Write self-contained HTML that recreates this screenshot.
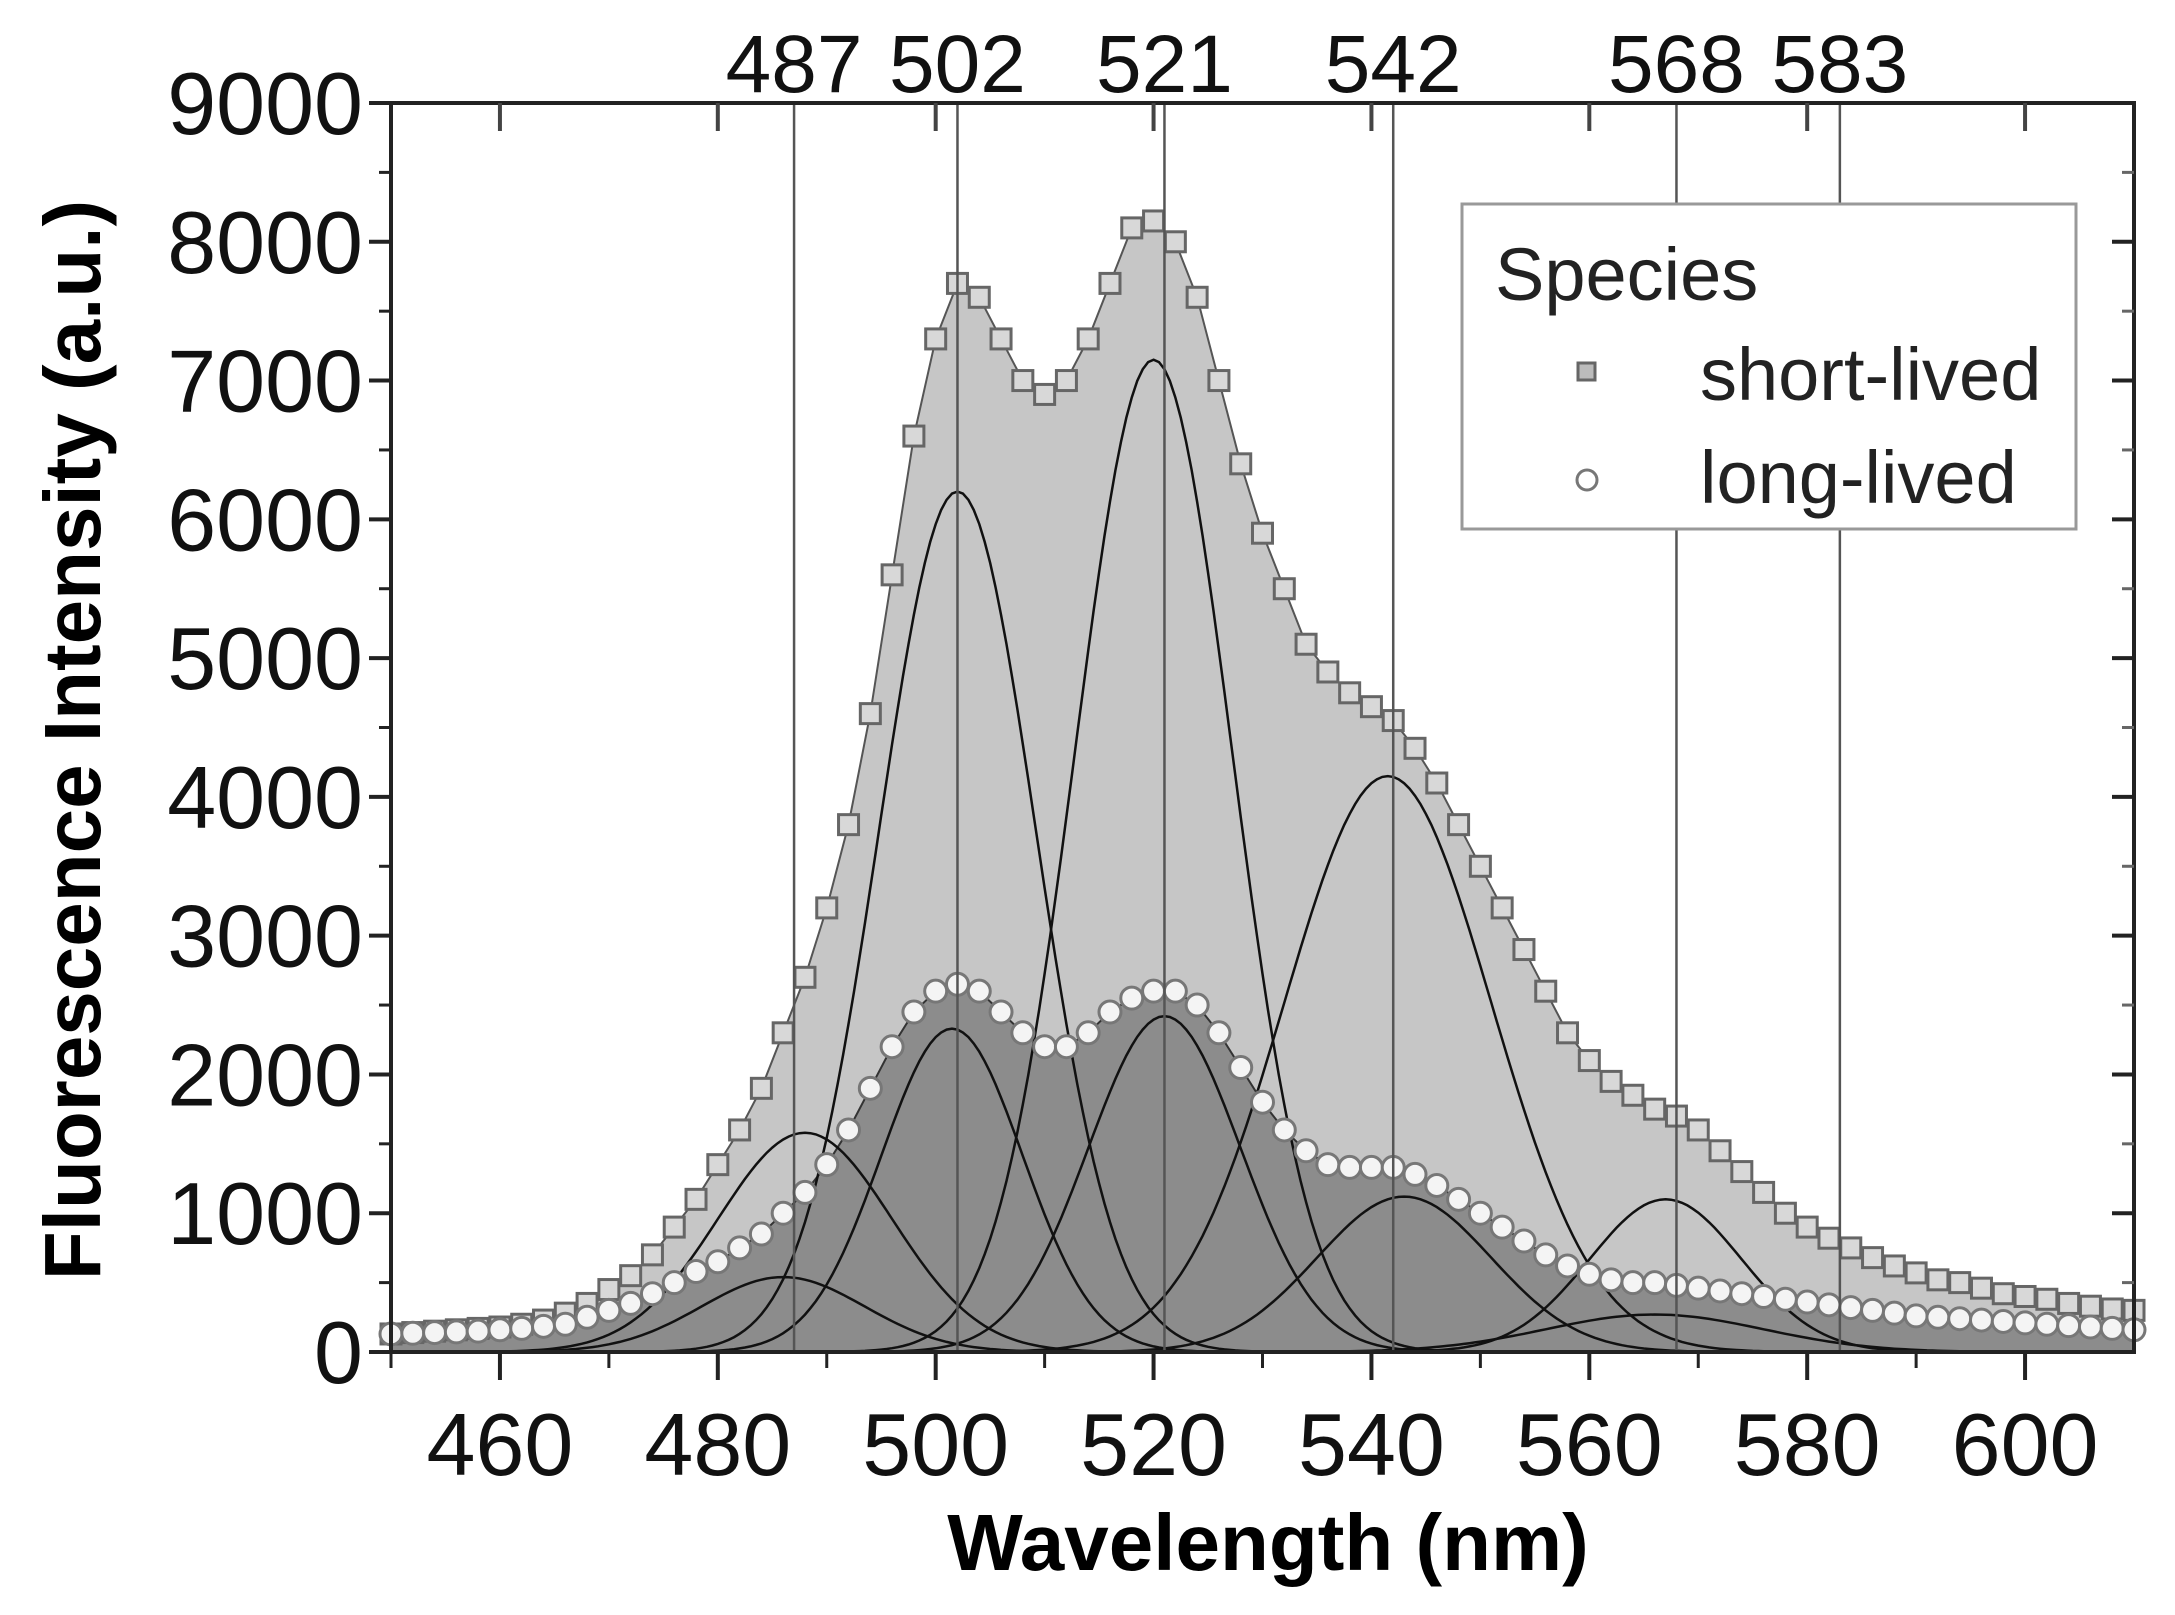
<!DOCTYPE html>
<html><head><meta charset="utf-8">
<style>html,body{margin:0;padding:0;background:#fff;}svg{display:block;font-family:"Liberation Sans",Arial,sans-serif;}</style>
</head><body>
<svg id="chart" width="2175" height="1615" viewBox="0 0 2175 1615" xmlns="http://www.w3.org/2000/svg">
<g id="fills"></g>
<g id="comps"></g>
<g id="marks"></g>
<g id="vlines"></g>
<g id="axes"></g>
<text x="0" y="0" transform="translate(100,740) rotate(-90)" text-anchor="middle" font-size="80" font-weight="bold">Fluorescence Intensity (a.u.)</text>
<text x="1268" y="1570" text-anchor="middle" font-size="80" font-weight="bold">Wavelength (nm)</text>
<g>
<rect x="1462" y="204" width="614" height="325" fill="#fff" stroke="#999" stroke-width="3"/>
<text x="1495" y="300" font-size="74" fill="#222">Species</text>
<rect x="1578" y="363" width="17" height="17" fill="#bbb" stroke="#666" stroke-width="3"/>
<text x="1700" y="400" font-size="74" fill="#222">short-lived</text>
<circle cx="1587" cy="480" r="10" fill="#fff" stroke="#777" stroke-width="3"/>
<text x="1700" y="503" font-size="74" fill="#222">long-lived</text>
</g>
</svg>
<script>
const wl=[450,452,454,456,458,460,462,464,466,468,470,472,474,476,478,480,482,484,486,488,490,492,494,496,498,500,502,504,506,508,510,512,514,516,518,520,522,524,526,528,530,532,534,536,538,540,542,544,546,548,550,552,554,556,558,560,562,564,566,568,570,572,574,576,578,580,582,584,586,588,590,592,594,596,598,600,602,604,606,608,610];
const shortLived=[130,140,150,160,170,180,200,230,280,350,450,550,700,900,1100,1350,1600,1900,2300,2700,3200,3800,4600,5600,6600,7300,7700,7600,7300,7000,6900,7000,7300,7700,8100,8150,8000,7600,7000,6400,5900,5500,5100,4900,4750,4650,4550,4350,4100,3800,3500,3200,2900,2600,2300,2100,1950,1850,1750,1700,1600,1450,1300,1150,1000,900,820,750,680,620,570,520,500,460,420,400,380,350,330,310,300];
const longLived=[130,135,140,145,150,160,170,185,200,250,300,350,420,500,580,650,750,850,1000,1150,1350,1600,1900,2200,2450,2600,2650,2600,2450,2300,2200,2200,2300,2450,2550,2600,2600,2500,2300,2050,1800,1600,1450,1350,1330,1330,1330,1280,1200,1100,1000,900,800,700,620,560,520,500,500,480,460,440,420,400,380,360,340,320,300,280,260,250,240,230,220,210,200,190,180,170,160];
const shortCenters=[488,502,520,541.5,567];
const shortAmps=[1580,6200,7150,4150,1100];
const shortWidths=[8,7.2,7.2,9.5,7];
const longCenters=[486,501.5,521,543,566];
const longAmps=[540,2330,2420,1120,270];
const longWidths=[7.5,6.5,7,8,10];
const peakLabels=[487,502,521,542,568,583];
const xTicks=[460,480,500,520,540,560,580,600];
const yTicks=[0,1000,2000,3000,4000,5000,6000,7000,8000,9000];

const X0=391,X1=2134,Y0=1352,Y1=103;
const xs=v=>X0+(v-450)/(610-450)*(X1-X0);
const ys=v=>Y0-(v/9000)*(Y0-Y1);
const NS="http://www.w3.org/2000/svg";
function mk(tag,attrs,parent){const e=document.createElementNS(NS,tag);for(const k in attrs)e.setAttribute(k,attrs[k]);parent.appendChild(e);return e;}
const fills=document.getElementById('fills'),comps=document.getElementById('comps'),marks=document.getElementById('marks'),vl=document.getElementById('vlines'),ax=document.getElementById('axes');

function areaPath(arr){let d='M'+xs(wl[0])+','+ys(0);wl.forEach((w,i)=>{d+=' L'+xs(w).toFixed(1)+','+ys(arr[i]).toFixed(1);});d+=' L'+xs(wl[wl.length-1])+','+ys(0)+' Z';return d;}
const fs=mk('path',{d:areaPath(shortLived),fill:'#c6c6c6',stroke:'#555','stroke-width':2},fills);


const fl=mk('path',{d:areaPath(longLived),fill:'#8c8c8c',stroke:'#333','stroke-width':2},fills);



function gauss(c,a,s){let d='';for(let w=450;w<=610;w+=0.5){const v=a*Math.exp(-0.5*((w-c)/s)**2);d+=(d?' L':'M')+xs(w).toFixed(1)+','+ys(v).toFixed(1);}return d;}
shortCenters.forEach((c,i)=>{const p=mk('path',{d:gauss(c,shortAmps[i],shortWidths[i]),fill:'none',stroke:'#111','stroke-width':2.5},comps);

});
longCenters.forEach((c,i)=>{const p=mk('path',{d:gauss(c,longAmps[i],longWidths[i]),fill:'none',stroke:'#111','stroke-width':2.5},comps);

});

wl.forEach((w,i)=>{
 const r=mk('rect',{x:xs(w)-10,y:ys(shortLived[i])-10,width:20,height:20,fill:'#d8d8d8',stroke:'#666','stroke-width':3},marks);
 
 
});
wl.forEach((w,i)=>{
 const c=mk('circle',{cx:xs(w),cy:ys(longLived[i]),r:11,fill:'#f4f4f4',stroke:'#777','stroke-width':3},marks);
 
 
});

peakLabels.forEach(p=>{
 const l=mk('line',{x1:xs(p),x2:xs(p),y1:Y1,y2:Y0,stroke:'#555','stroke-width':2.5},vl);
 
 
 const t=mk('text',{x:xs(p),y:92,'text-anchor':'middle','font-size':82,fill:'#111'},vl);
 t.textContent=p;
 
 
});

const frame=mk('rect',{x:X0,y:Y1,width:X1-X0,height:Y0-Y1,fill:'none',stroke:'#222','stroke-width':4},ax);


xTicks.forEach(v=>{
 mk('line',{x1:xs(v),x2:xs(v),y1:Y0,y2:Y0+28,stroke:'#222','stroke-width':4},ax);
 mk('line',{x1:xs(v),x2:xs(v),y1:Y1,y2:Y1+28,stroke:'#444','stroke-width':4},ax);
 mk('line',{x1:xs(v-10),x2:xs(v-10),y1:Y0,y2:Y0+16,stroke:'#222','stroke-width':3},ax);
 const t=mk('text',{x:xs(v),y:1475,'text-anchor':'middle','font-size':88,fill:'#111'},ax);
 t.textContent=v;
 
 
});
yTicks.forEach(v=>{
 mk('line',{x1:X0-22,x2:X0,y1:ys(v),y2:ys(v),stroke:'#222','stroke-width':4},ax);
 mk('line',{x1:X1-22,x2:X1,y1:ys(v),y2:ys(v),stroke:'#222','stroke-width':4},ax);
 if(v<9000){mk('line',{x1:X0-12,x2:X0,y1:ys(v+500),y2:ys(v+500),stroke:'#222','stroke-width':3},ax);
 mk('line',{x1:X1-12,x2:X1,y1:ys(v+500),y2:ys(v+500),stroke:'#666','stroke-width':3},ax);}
 const t=mk('text',{x:X0-28,y:ys(v)+31,'text-anchor':'end','font-size':88,fill:'#111'},ax);
 t.textContent=v;
 
 
});
</script>
</body></html>
